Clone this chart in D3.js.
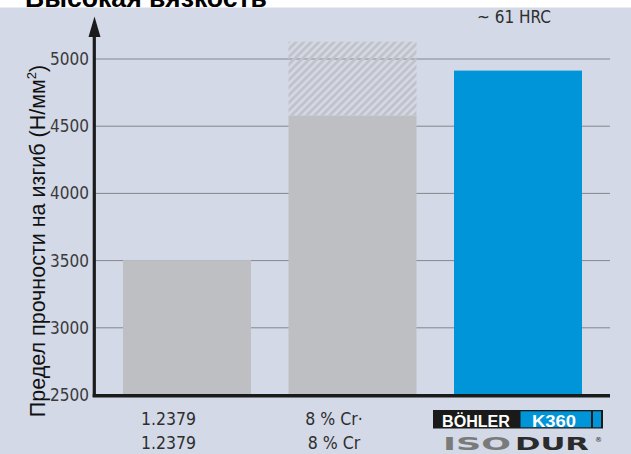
<!DOCTYPE html>
<html>
<head>
<meta charset="utf-8">
<script src="https://cdn.jsdelivr.net/npm/d3@7"></script>
<style>
  html, body { margin: 0; padding: 0; background: #ffffff; }
  svg { display: block; }
</style>
</head>
<body>
<svg id="chart" width="631" height="454"></svg>
<script>
// ---- data ----
const categories = ["1.2379", "8 % Cr", "K360"];
const labelRow1 = ["1.2379", "8 % Cr·", ""];
const labelRow2 = ["1.2379", "8 % Cr", ""];
const baseValues = [3500, 4575, 4910];
const extValues = [null, 5125, null];
const barColors = ["#bebfc3", "#bebfc3", "#0095d9"];
const yTicks = [2500, 3000, 3500, 4000, 4500, 5000];
const gridTicks = [3000, 3500, 4000, 4500, 5000];
const titleText = "Высокая вязкость";
const yTitle = "Предел прочности на изгиб (Н/мм";
const noteText = "~ 61 HRC";

const condensed = "'Liberation Sans Narrow','Arial Narrow','DejaVu Sans Condensed',sans-serif";

const svg = d3.select("#chart");

// background panel
svg.append("rect").attr("x", 0).attr("y", 7.5).attr("width", 631).attr("height", 447).attr("fill", "#d3d9e7");

// title (clipped at top, as in the reference)
svg.append("text").attr("x", 25).attr("y", 6.5)
  .attr("font-family", "'Liberation Sans',Arial,sans-serif").attr("font-weight", "bold")
  .attr("font-size", 25).attr("fill", "#000")
  .attr("textLength", 242).attr("lengthAdjust", "spacingAndGlyphs")
  .text(titleText);

const y = d3.scaleLinear().domain([2500, 5000]).range([394.5, 58.5]);
const x = d3.scaleBand().domain(categories).range([104.25, 600.75]).paddingInner(0.2266).paddingOuter(0.1133);

// hatch pattern
const defs = svg.append("defs");
const pat = defs.append("pattern").attr("id", "hatch").attr("patternUnits", "userSpaceOnUse")
  .attr("width", 5.4).attr("height", 5.4).attr("patternTransform", "rotate(45)");
pat.append("rect").attr("x", 0).attr("y", 0).attr("width", 2.9).attr("height", 5.4).attr("fill", "#c1c3c9");

// gridlines
svg.append("g").selectAll("line").data(gridTicks).join("line")
  .attr("x1", 95).attr("x2", 610)
  .attr("y1", d => y(d) + 0.5).attr("y2", d => y(d) + 0.5)
  .attr("stroke", "#85878c").attr("stroke-width", 1);

// solid bars
svg.append("g").selectAll("rect").data(categories).join("rect")
  .attr("x", d => x(d)).attr("width", x.bandwidth())
  .attr("y", (d, i) => y(baseValues[i]))
  .attr("height", (d, i) => y(2500) - y(baseValues[i]))
  .attr("fill", (d, i) => barColors[i]);

// hatched extension
svg.append("g").selectAll("rect").data(categories.filter((d, i) => extValues[i] != null)).join("rect")
  .attr("x", d => x(d)).attr("width", x.bandwidth())
  .attr("y", d => y(extValues[categories.indexOf(d)]))
  .attr("height", d => { const i = categories.indexOf(d); return y(baseValues[i]) - y(extValues[i]); })
  .attr("fill", "url(#hatch)");

// y axis tick labels
const yAxis = d3.axisLeft(y).tickValues(yTicks).tickSize(0).tickPadding(6).tickFormat(d3.format("d"));
const gy = svg.append("g").attr("transform", "translate(95,0.5)").call(yAxis);
gy.select(".domain").remove();
gy.selectAll("text").attr("font-family", condensed).attr("font-size", 17).attr("fill", "#3a3a3a");

// axes lines
svg.append("line").attr("x1", 94.3).attr("x2", 94.3).attr("y1", 30).attr("y2", 397)
  .attr("stroke", "#1b1b1b").attr("stroke-width", 3.2);
svg.append("line").attr("x1", 92.7).attr("x2", 610).attr("y1", 395.8).attr("y2", 395.8)
  .attr("stroke", "#1b1b1b").attr("stroke-width", 3.4);
svg.append("path").attr("d", "M94.5,16.5 L100.5,37 L88.5,37 Z").attr("fill", "#1b1b1b");

// y title
const yt = svg.append("text").attr("transform", "translate(45,241) rotate(-90)")
  .attr("text-anchor", "middle")
  .attr("font-family", "'Liberation Sans',Arial,sans-serif").attr("font-size", 21.5).attr("fill", "#111");
yt.append("tspan").text(yTitle);
yt.append("tspan").attr("font-size", 13).attr("dy", -9).text("2");
yt.append("tspan").attr("dy", 9).text(")");

// category labels
const labelOffset = -18.5;
svg.append("g").selectAll("text").data(categories).join("text")
  .attr("x", d => x(d) + x.bandwidth() / 2 + labelOffset).attr("y", 424.5)
  .attr("text-anchor", "middle").attr("font-family", condensed).attr("font-size", 17.5).attr("fill", "#2e2e2e")
  .text((d, i) => labelRow1[i]);
svg.append("g").selectAll("text").data(categories).join("text")
  .attr("x", d => x(d) + x.bandwidth() / 2 + labelOffset).attr("y", 449)
  .attr("text-anchor", "middle").attr("font-family", condensed).attr("font-size", 17.5).attr("fill", "#2e2e2e")
  .text((d, i) => labelRow2[i]);

// note above blue bar
svg.append("text").attr("x", x("K360") + x.bandwidth() / 2 - 4).attr("y", 23)
  .attr("text-anchor", "middle").attr("font-family", condensed).attr("font-size", 17).attr("fill", "#2e2e2e")
  .text(noteText);

// logos under blue bar
const cx = x("K360") + x.bandwidth() / 2;
const logo = svg.append("g").attr("transform", `translate(${cx},0)`);
logo.append("rect").attr("x", -85).attr("y", 410).attr("width", 170).attr("height", 18.5).attr("fill", "#1a1a1a");
logo.append("rect").attr("x", 2.5).attr("y", 411.3).attr("width", 70.5).attr("height", 16).attr("fill", "#0095d9");
logo.append("rect").attr("x", 75).attr("y", 411.3).attr("width", 8).attr("height", 16).attr("fill", "#0095d9");
logo.append("text").attr("x", -42).attr("y", 426.5).attr("text-anchor", "middle")
  .attr("font-family", "'Liberation Sans',Arial,sans-serif").attr("font-weight", "bold").attr("font-size", 16)
  .attr("fill", "#fff").attr("textLength", 68).attr("lengthAdjust", "spacingAndGlyphs").text("BÖHLER");
logo.append("text").attr("x", 36).attr("y", 426.5).attr("text-anchor", "middle")
  .attr("font-family", "'Liberation Sans',Arial,sans-serif").attr("font-weight", "bold").attr("font-size", 16.5)
  .attr("fill", "#fff").attr("textLength", 44).attr("lengthAdjust", "spacingAndGlyphs").text("K360");
const iso = logo.append("text").attr("y", 450).attr("font-family", "'DejaVu Sans',sans-serif")
  .attr("font-weight", "bold").attr("font-size", 18);
iso.append("tspan").attr("x", -75).attr("fill", "#7a7a7a").attr("textLength", 68).attr("lengthAdjust", "spacingAndGlyphs").text("ISO");
iso.append("tspan").attr("x", -3).attr("fill", "#2b2b2b").attr("textLength", 74).attr("lengthAdjust", "spacingAndGlyphs").text("DUR");
logo.append("text").attr("x", 77).attr("y", 442).attr("font-family", "'DejaVu Sans',sans-serif")
  .attr("font-size", 7).attr("fill", "#2b2b2b").text("®");
</script>
</body>
</html>
